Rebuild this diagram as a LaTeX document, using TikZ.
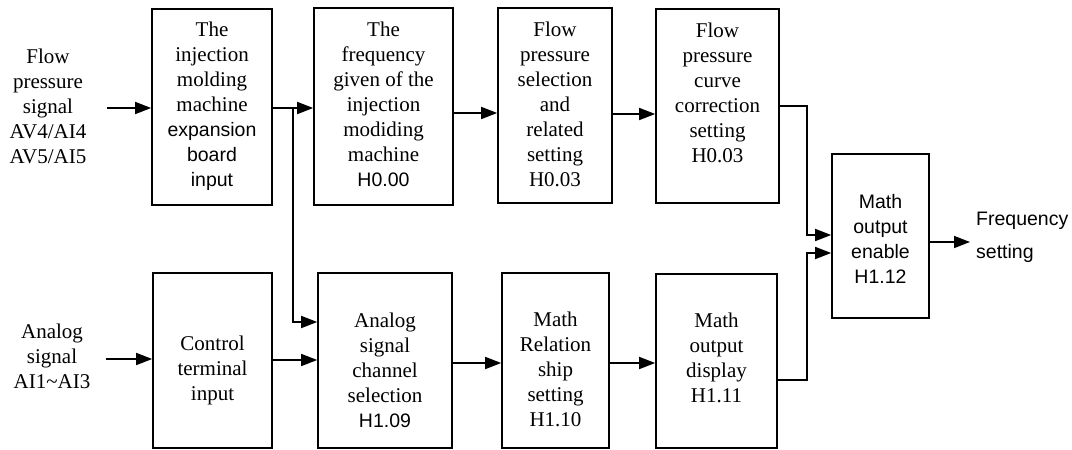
\documentclass[tikz,border=0pt]{standalone}
\usepackage{fontspec}
\setmainfont{Liberation Serif}
\setsansfont{Liberation Sans}
\usetikzlibrary{arrows.meta}
\tikzset{
  box/.style={draw=black, line width=1.6pt, rectangle, inner sep=0pt},
  txt/.style={align=center, inner sep=0pt, font=\fontsize{21}{25}\selectfont},
  stxt/.style={align=center, inner sep=0pt, font=\sffamily\fontsize{19.5}{25}\selectfont},
  conn/.style={draw=black, line width=1.6pt},
  tip/.style={-{Triangle[length=16pt,width=12pt]}},
}
\newcommand{\sfline}[1]{{\sffamily\fontsize{19.5}{25}\selectfont #1}}
\begin{document}
\begin{tikzpicture}[x=1pt,y=-1pt]
\useasboundingbox (0,0) rectangle (1072,450);
% boxes
\node[box, minimum width=120pt, minimum height=196pt] (b1) at (212,107) {};
\node[box, minimum width=139pt, minimum height=197pt] (b2) at (383.5,106.5) {};
\node[box, minimum width=114pt, minimum height=195pt] (b3) at (555,105.5) {};
\node[box, minimum width=123pt, minimum height=194pt] (b4) at (717.5,106) {};
\node[box, minimum width=97pt, minimum height=164pt] (b5) at (880.5,236) {};
\node[box, minimum width=119pt, minimum height=175pt] (b6) at (212.5,360.5) {};
\node[box, minimum width=134pt, minimum height=175pt] (b7) at (385,360.5) {};
\node[box, minimum width=107pt, minimum height=175pt] (b8) at (555.5,360.5) {};
\node[box, minimum width=121pt, minimum height=174pt] (b9) at (716.5,361) {};
% texts
\node[txt] (in1) at (48,106) {Flow\\pressure\\signal\\AV4/AI4\\AV5/AI5};
\node[txt] (in2) at (52,356) {Analog\\signal\\AI1\textasciitilde AI3};
\node[txt] (t1) at (212,106.5) {The\\injection\\molding\\machine\\\sfline{expansion}\\\sfline{board}\\\sfline{input}};
\node[txt] (t2) at (383.5,104.5) {The\\frequency\\given of the\\injection\\modiding\\machine\\\sfline{H0.00}};
\node[txt] (t3) at (555,104) {Flow\\pressure\\selection\\and\\related\\setting\\H0.03};
\node[txt] (t4) at (717.5,93) {Flow\\pressure\\curve\\correction\\setting\\H0.03};
\node[stxt] (t5) at (880.5,239) {Math\\output\\enable\\H1.12};
\node[txt] (t6) at (212.5,370) {Control\\terminal\\input};
\node[txt] (t7) at (385,370) {Analog\\signal\\channel\\selection\\\sfline{H1.09}};
\node[txt] (t8) at (555.5,369) {Math\\Relation\\ship\\setting\\H1.10};
\node[txt] (t9) at (716.5,358) {Math\\output\\display\\H1.11};
\node[align=left, inner sep=0pt, anchor=west, font=\sffamily\fontsize{19.5}{33}\selectfont] (out) at (976,237) {Frequency\\setting};
% coordinates
\coordinate (s1) at (107,108);
\coordinate (s2) at (106,359);
\coordinate (o) at (970,242);
% connectors
\draw[conn,tip] (s1) -- (s1 -| b1.west);
\draw[conn,tip] (s2) -- (s2 -| b6.west);
\draw[conn,tip] ([yshift=-1pt]b1.east) -- ([yshift=-1pt]b1.east -| b2.west);
\coordinate (j) at ([xshift=20pt,yshift=-1pt]b1.east);
\draw[conn,tip] (j) |- ([yshift=38.5pt]b7.west);
\draw[conn,tip] ([yshift=0.5pt]b6.east) -- ([yshift=0.5pt]b6.east -| b7.west);
\draw[conn,tip] ([yshift=-6.5pt]b2.east) -- ([yshift=-6.5pt]b2.east -| b3.west);
\draw[conn,tip] ([yshift=-8.5pt]b3.east) -- ([yshift=-8.5pt]b3.east -| b4.west);
\draw[conn,tip] (b4.east) -- ++(27,0) |- ([yshift=1pt]b5.west);
\draw[conn,tip] ([yshift=-19pt]b9.east) -- ++(29,0) |- ([yshift=-17pt]b5.west);
\draw[conn,tip] ([yshift=-2.5pt]b7.east) -- ([yshift=-2.5pt]b7.east -| b8.west);
\draw[conn,tip] ([yshift=-2.5pt]b8.east) -- ([yshift=-2.5pt]b8.east -| b9.west);
\draw[conn,tip] ([yshift=-6pt]b5.east) -- (o);
\end{tikzpicture}
\end{document}
